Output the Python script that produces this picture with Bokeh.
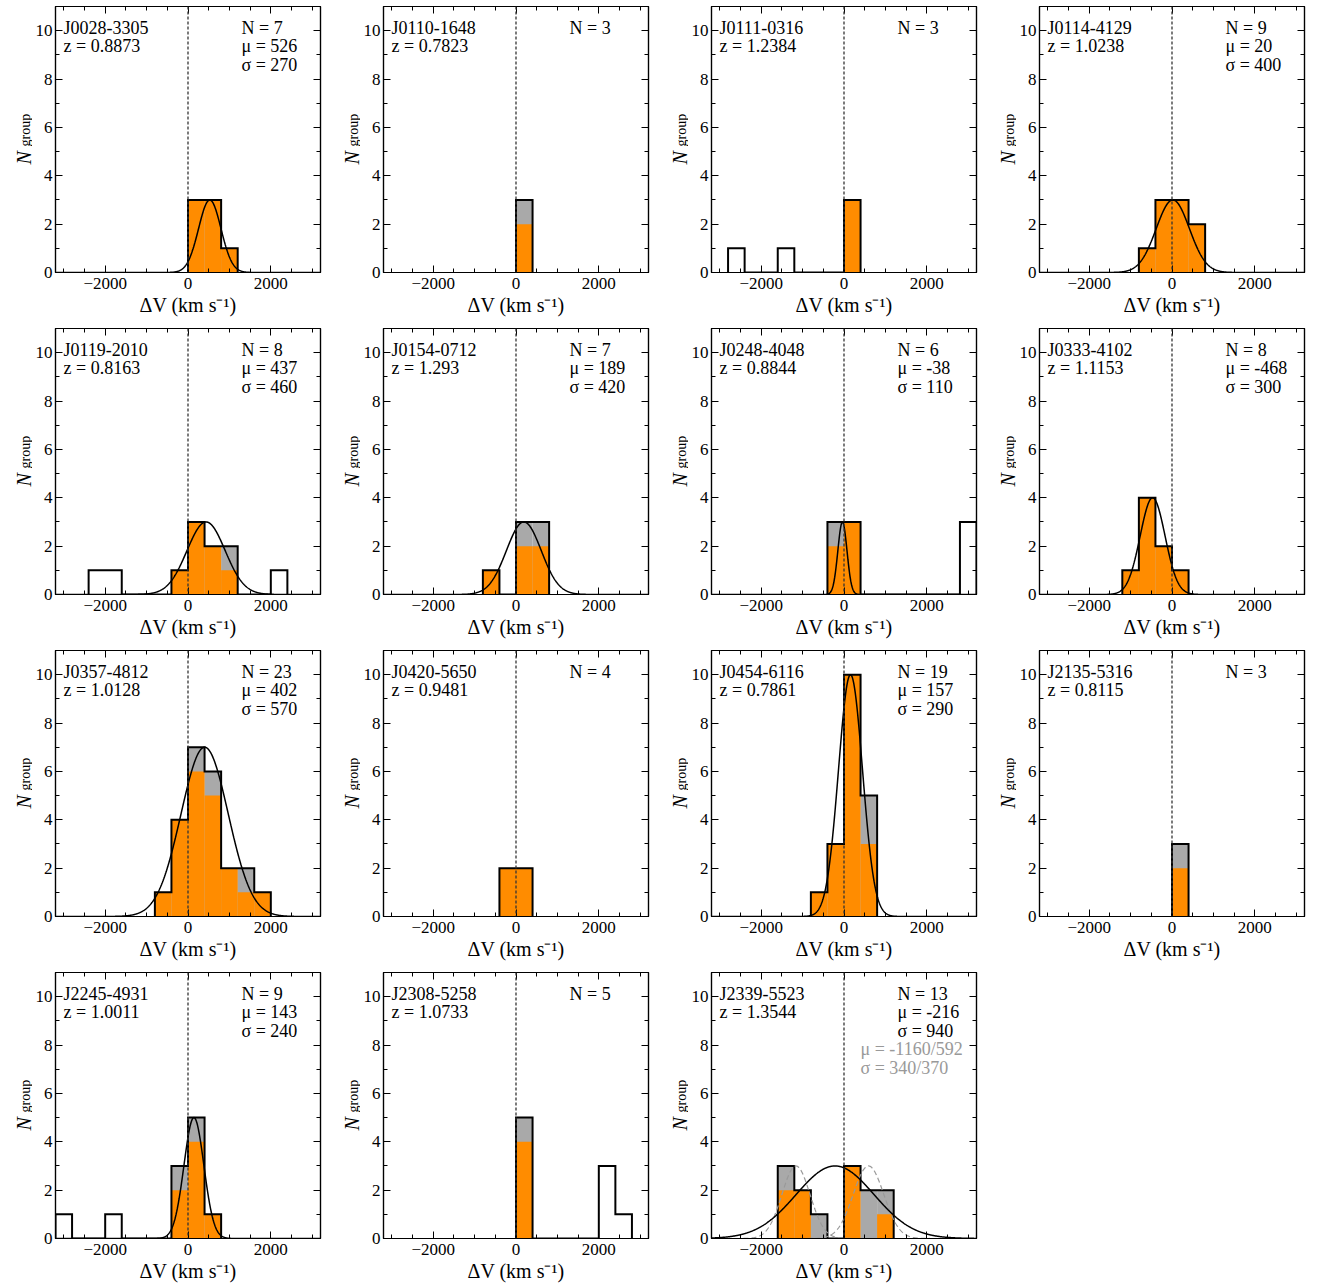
import numpy as np
from bokeh.plotting import figure
from bokeh.layouts import row, column
from bokeh.models import Span, Label, FixedTicker, LinearAxis, Range1d
from bokeh.core.properties import value
from bokeh.embed import file_html
from bokeh.resources import INLINE

# ---------------- data ----------------
BIN_WIDTH = 400
X_RANGE = (-3200, 3200)
Y_RANGE = (0, 11)

names = ["J0028-3305", "J0110-1648", "J0111-0316", "J0114-4129",
         "J0119-2010", "J0154-0712", "J0248-4048", "J0333-4102",
         "J0357-4812", "J0420-5650", "J0454-6116", "J2135-5316",
         "J2245-4931", "J2308-5258", "J2339-5523"]
redshifts = ["0.8873", "0.7823", "1.2384", "1.0238",
             "0.8163", "1.293", "0.8844", "1.1153",
             "1.0128", "0.9481", "0.7861", "0.8115",
             "1.0011", "1.0733", "1.3544"]
n_members = [7, 3, 3, 9, 8, 7, 6, 8, 23, 4, 19, 3, 9, 5, 13]
mu = [526, None, None, 20, 437, 189, -38, -468, 402, None, 157, None, 143, None, -216]
sigma = [270, None, None, 400, 460, 420, 110, 300, 570, None, 290, None, 240, None, 940]

# histogram bins (left edges, km/s) and counts: all galaxies / group members / sub-sample
bin_left = [
    [0, 400, 800],
    [0],
    [-2800, -1600, 0],
    [-800, -400, 0, 400],
    [-2400, -2000, -400, 0, 400, 800, 2000],
    [-800, -400, 0, 400],
    [-400, 0, 2800],
    [-1200, -800, -400, 0],
    [-800, -400, 0, 400, 800, 1200, 1600],
    [-400, 0],
    [-800, -400, 0, 400],
    [0],
    [-3200, -2000, -400, 0, 400],
    [0, 2000, 2400],
    [-1600, -1200, -800, 0, 400, 800],
]
counts_all = [
    [3, 3, 1],
    [3],
    [1, 1, 3],
    [1, 3, 3, 2],
    [1, 1, 1, 3, 2, 2, 1],
    [1, 0, 3, 3],
    [3, 3, 3],
    [1, 4, 2, 1],
    [1, 4, 7, 6, 2, 2, 1],
    [2, 2],
    [1, 3, 10, 5],
    [3],
    [1, 1, 3, 5, 1],
    [5, 3, 1],
    [3, 2, 1, 3, 2, 2],
]
counts_group = [
    [3, 3, 1],
    [3],
    [0, 0, 3],
    [1, 3, 3, 2],
    [0, 0, 1, 3, 2, 2, 0],
    [1, 0, 3, 3],
    [3, 3, 0],
    [1, 4, 2, 1],
    [1, 4, 7, 6, 2, 2, 1],
    [2, 2],
    [1, 3, 10, 5],
    [3],
    [0, 0, 3, 5, 1],
    [5, 0, 0],
    [3, 2, 1, 3, 2, 2],
]
counts_sub = [
    [3, 3, 1],
    [2],
    [0, 0, 3],
    [1, 3, 3, 2],
    [0, 0, 1, 3, 2, 1, 0],
    [1, 0, 2, 2],
    [2, 3, 0],
    [1, 4, 2, 1],
    [1, 4, 6, 5, 2, 1, 1],
    [2, 2],
    [1, 3, 10, 3],
    [2],
    [0, 0, 2, 4, 1],
    [4, 0, 0],
    [2, 2, 0, 3, 0, 1],
]

# two-component fit shown for J2339-5523
comp_panel = "J2339-5523"
comp_mu = [-1160, 592]
comp_sigma = [340, 370]
comp_text_mu = "μ = -1160/592"
comp_text_sigma = "σ = 340/370"

# ---------------- style ----------------
FONT = "Liberation Serif"
ORANGE = "#FF8C00"
GREY = "#A9A9A9"
NCOLS = 4
FRAME_W = 268
FRAME_H = 266
LAB_W = 32          # strip holding the rotated y label
LEFT_B = 20         # room for y tick labels
RIGHT_B = 8
TOP_FIRST = 6
BOTTOM_B = 56
BOTTOM_LAST = 46


def step_outline(lefts, counts):
    lo = min(lefts)
    hi = max(lefts) + BIN_WIDTH
    edges = np.arange(lo, hi + 1, BIN_WIDTH)
    dense = np.zeros(len(edges) - 1)
    for l, c in zip(lefts, counts):
        dense[int((l - lo) // BIN_WIDTH)] = c
    xs, ys = [edges[0]], [0]
    for i, c in enumerate(dense):
        xs += [edges[i], edges[i + 1]]
        ys += [c, c]
    xs.append(edges[-1])
    ys.append(0)
    return xs, ys


def style_axis(ax, ticks, minor, labels=True, overrides=None):
    ax.ticker = FixedTicker(ticks=ticks, minor_ticks=minor)
    ax.major_tick_in = 7
    ax.major_tick_out = 0
    ax.minor_tick_in = 4
    ax.minor_tick_out = 0
    ax.axis_line_color = "black"
    ax.axis_line_width = 1.2
    ax.major_tick_line_color = "black"
    ax.major_tick_line_width = 1
    ax.minor_tick_line_color = "black"
    ax.minor_tick_line_width = 1
    if labels:
        ax.major_label_text_font = FONT
        ax.major_label_text_font_size = "17px"
        ax.major_label_text_color = "black"
        if overrides:
            ax.major_label_overrides = overrides
    else:
        ax.major_label_text_font_size = "0px"
        ax.major_label_text_color = None
        ax.major_label_standoff = 0
        ax.axis_label = None


x_major = [-2000, 0, 2000]
x_minor = list(range(-3000, 3001, 500))
y_major = [0, 2, 4, 6, 8, 10]
y_minor = list(range(0, 12))
x_over = {-2000: "\u22122000", 0: "0", 2000: "2000"}

n = len(names)
nrows = (n + NCOLS - 1) // NCOLS
xg = np.linspace(X_RANGE[0], X_RANGE[1], 801)

rows = []
for r in range(nrows):
    items = []
    for c in range(NCOLS):
        i = r * NCOLS + c
        if i >= n:
            break
        top_b = TOP_FIRST if r == 0 else 0
        bottom_b = BOTTOM_LAST if r == nrows - 1 else BOTTOM_B
        H = top_b + FRAME_H + bottom_b

        # ---- strip with the y-axis label N_group (frame aligned with the panel frame) ----
        lab_fig = figure(width=LAB_W, height=H, x_range=Range1d(0, LAB_W),
                         y_range=Range1d(0, FRAME_H),
                         output_backend="svg", toolbar_location=None,
                         x_axis_location=None, y_axis_location=None,
                         min_border_left=0, min_border_right=0,
                         min_border_top=top_b, min_border_bottom=bottom_b)
        lab_fig.outline_line_color = None
        lab_fig.xgrid.visible = False
        lab_fig.ygrid.visible = False
        # thin space after the italic N leaves room for its slanted overhang
        lab_fig.text(x=[23.0], y=[108], text=["N\u2009"], angle=np.pi / 2,
                     text_font=value(FONT), text_font_style="italic",
                     text_font_size="20px", text_color="black",
                     text_align="left", text_baseline="alphabetic")
        lab_fig.text(x=[25.0], y=[126], text=["group"], angle=np.pi / 2,
                     text_font=value(FONT), text_font_size="14px", text_color="black",
                     text_align="left", text_baseline="alphabetic")

        # ---- histogram panel ----
        p = figure(width=LEFT_B + FRAME_W + RIGHT_B, height=H,
                   x_range=Range1d(*X_RANGE), y_range=Range1d(*Y_RANGE),
                   output_backend="svg", toolbar_location=None,
                   min_border_left=LEFT_B, min_border_right=RIGHT_B,
                   min_border_top=top_b, min_border_bottom=bottom_b)
        p.xgrid.visible = False
        p.ygrid.visible = False
        p.outline_line_color = "black"
        p.outline_line_width = 1.2
        p.background_fill_color = "white"

        xa = p.xaxis[0]
        style_axis(xa, x_major, x_minor, True, x_over)
        xa.major_label_standoff = 5
        xa.axis_label = "ΔV (km s⁻¹)"
        xa.axis_label_text_font = FONT
        xa.axis_label_text_font_size = "20px"
        xa.axis_label_text_font_style = "normal"
        xa.axis_label_text_color = "black"
        xa.axis_label_standoff = 2
        ya = p.yaxis[0]
        style_axis(ya, y_major, y_minor, True)
        ya.major_label_standoff = 3

        top_ax = LinearAxis()
        style_axis(top_ax, x_major, x_minor, False)
        p.add_layout(top_ax, "above")
        right_ax = LinearAxis()
        style_axis(right_ax, y_major, y_minor, False)
        p.add_layout(right_ax, "right")

        lefts = bin_left[i]
        rights = [l + BIN_WIDTH for l in lefts]
        p.quad(left=lefts, right=rights, bottom=0, top=counts_group[i],
               fill_color=GREY, line_color=None)
        p.quad(left=lefts, right=rights, bottom=0, top=counts_sub[i],
               fill_color=ORANGE, line_color=None)
        sx, sy = step_outline(lefts, counts_all[i])
        p.line(sx, sy, line_color="black", line_width=2, line_join="miter")

        amp = max(counts_group[i])
        if names[i] == comp_panel:
            for m, s in zip(comp_mu, comp_sigma):
                p.line(xg, amp * np.exp(-0.5 * ((xg - m) / s) ** 2),
                       line_color="#999999", line_width=1.2, line_dash="5 3")
        if mu[i] is not None:
            p.line(xg, amp * np.exp(-0.5 * ((xg - mu[i]) / sigma[i]) ** 2),
                   line_color="black", line_width=1.5)

        p.add_layout(Span(location=0, dimension="height", line_color="#333333",
                          line_width=1.3, line_dash="3 2"))

        def lab(x, y_from_top, text, color="black", fig=p):
            fig.add_layout(Label(x=x, y=FRAME_H - y_from_top, x_units="screen", y_units="screen",
                                 text=text, text_font=FONT, text_font_size="18px",
                                 text_color=color, text_align="left",
                                 text_baseline="alphabetic"))

        lab(8, 21, names[i])
        lab(8, 39.5, "z = " + redshifts[i])
        lab(186, 21, "N = %d" % n_members[i])
        if mu[i] is not None:
            lab(186, 39.5, "μ = %d" % mu[i])
            lab(186, 58, "σ = %d" % sigma[i])
        if names[i] == comp_panel:
            lab(149, 76.5, comp_text_mu, "#999999")
            lab(149, 95, comp_text_sigma, "#999999")

        items += [lab_fig, p]
    rows.append(row(items))

layout = column(rows)
open("out.html", "w").write(file_html(layout, INLINE))
